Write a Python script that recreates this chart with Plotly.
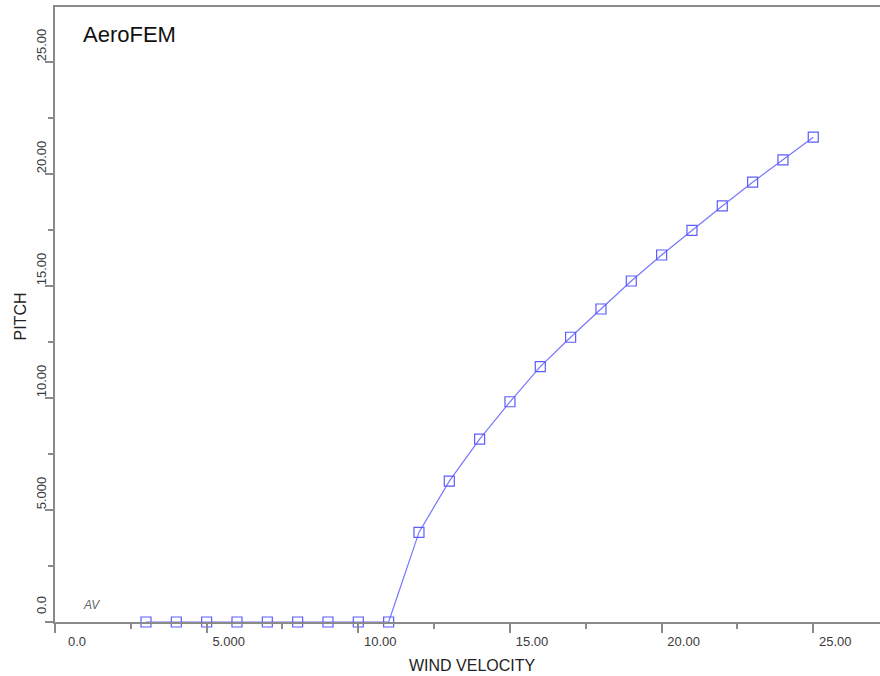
import plotly.graph_objects as go

# Wind speed vs. blade pitch (AeroFEM output)
wind_velocity = [3, 4, 5, 6, 7, 8, 9, 10, 11, 12, 13, 14, 15, 16, 17, 18, 19, 20,
                 21, 22, 23, 24, 25]
pitch = [0.0, 0.0, 0.0, 0.0, 0.0, 0.0, 0.0, 0.0, 0.0, 4.0, 6.29, 8.16, 9.83, 11.4,
         12.71, 13.97, 15.22, 16.38, 17.48, 18.57, 19.63, 20.63, 21.64]

x_tickvals = [0, 5, 10, 15, 20, 25]
x_ticktext = ["0.0", "5.000", "10.00", "15.00", "20.00", "25.00"]
y_tickvals = [0, 5, 10, 15, 20, 25]
y_ticktext = ["0.0", "5.000", "10.00", "15.00", "20.00", "25.00"]

AXIS_GRAY = "#8a8a8a"
FONT_FAMILY = "Liberation Sans, Arial, sans-serif"
TICK_FONT = dict(family=FONT_FAMILY, size=13, color="#3a3a3a")
TITLE_FONT = dict(family=FONT_FAMILY, size=16, color="#222222")
LINE_BLUE = "#7676ff"

fig = go.Figure()
fig.add_trace(go.Scatter(
    x=wind_velocity,
    y=pitch,
    mode="lines+markers",
    line=dict(color=LINE_BLUE, width=1.2),
    marker=dict(symbol="square-open", size=10, color="#5c5cff",
                line=dict(width=1.2, color="#5c5cff")),
    cliponaxis=False,
    showlegend=False,
))

fig.update_layout(
    width=880,
    height=676,
    margin=dict(l=55, r=0, t=7, b=54),
    paper_bgcolor="white",
    plot_bgcolor="white",
    xaxis=dict(
        range=[0, 27.2],
        tickvals=x_tickvals,
        ticktext=x_ticktext,
        ticks="outside",
        ticklen=9,
        tickwidth=1.5,
        tickcolor=AXIS_GRAY,
        ticklabelshift=22,
        ticklabelstandoff=-2,
        minor=dict(dtick=2.5, tick0=0, ticks="outside", ticklen=5,
                   tickwidth=1.5, tickcolor=AXIS_GRAY, showgrid=False),
        showline=True,
        linecolor=AXIS_GRAY,
        linewidth=1.5,
        mirror=True,
        showgrid=False,
        zeroline=False,
        tickfont=TICK_FONT,
    ),
    yaxis=dict(
        range=[0, 27.45],
        tickvals=y_tickvals,
        ticktext=y_ticktext,
        ticks="outside",
        ticklen=8,
        tickwidth=1.5,
        tickcolor=AXIS_GRAY,
        tickangle=-90,
        ticklabelshift=-15,
        ticklabelstandoff=-6,
        minor=dict(dtick=2.5, tick0=0, ticks="outside", ticklen=5,
                   tickwidth=1.5, tickcolor=AXIS_GRAY, showgrid=False),
        showline=True,
        linecolor=AXIS_GRAY,
        linewidth=1.5,
        showgrid=False,
        zeroline=False,
        tickfont=TICK_FONT,
    ),
    annotations=[
        # axis titles
        dict(text="WIND VELOCITY", xref="paper", yref="paper", x=0.5, y=0,
             xshift=5, yshift=-43, xanchor="center", yanchor="middle",
             showarrow=False, font=TITLE_FONT),
        dict(text="PITCH", xref="paper", yref="paper", x=0, y=0.5,
             xshift=-35, yshift=-2, textangle=-90, xanchor="center",
             yanchor="middle", showarrow=False, font=TITLE_FONT),
        # chart labels
        dict(text="AeroFEM", xref="paper", yref="paper", x=0.031, y=0.956,
             xanchor="left", yanchor="middle", showarrow=False,
             font=dict(family=FONT_FAMILY, size=22, color="#111111")),
        dict(text="<i>AV</i>", xref="paper", yref="paper", x=0.031, y=0.027,
             xanchor="left", yanchor="middle", showarrow=False,
             font=dict(family=FONT_FAMILY, size=12, color="#666666")),
    ],
)

fig.write_html("out.html")
